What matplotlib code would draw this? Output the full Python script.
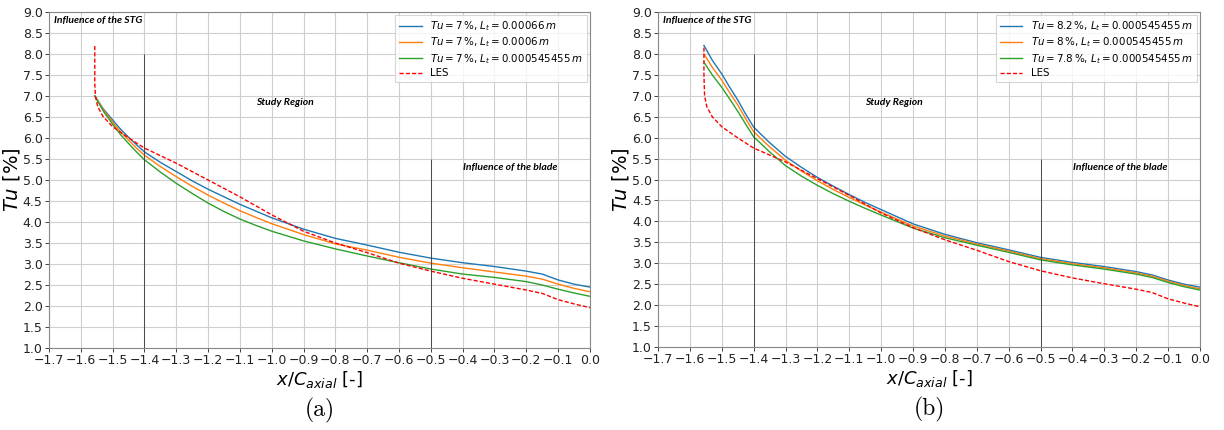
import matplotlib
matplotlib.use("Agg")
import matplotlib.pyplot as plt

# ---------------- data ----------------
x_pts = [-1.556, -1.53, -1.5, -1.475, -1.45, -1.425, -1.4, -1.35, -1.3, -1.25,
         -1.2, -1.15, -1.1, -1.05, -1.0, -0.9, -0.8, -0.7, -0.6, -0.5, -0.4,
         -0.3, -0.2, -0.15, -0.1, -0.05, 0.0]

# panel (a)
a_blue = [7.0, 6.7, 6.43, 6.21, 6.02, 5.84, 5.67, 5.42, 5.2, 4.98, 4.78, 4.6,
          4.42, 4.26, 4.1, 3.83, 3.61, 3.45, 3.28, 3.14, 3.03, 2.94, 2.83,
          2.76, 2.62, 2.52, 2.45]
a_orange = [7.0, 6.68, 6.38, 6.15, 5.95, 5.76, 5.59, 5.32, 5.08, 4.85, 4.64,
            4.45, 4.27, 4.11, 3.96, 3.7, 3.48, 3.33, 3.16, 3.02, 2.91, 2.81,
            2.71, 2.64, 2.52, 2.42, 2.34]
a_green = [7.0, 6.65, 6.33, 6.08, 5.87, 5.67, 5.48, 5.19, 4.92, 4.68, 4.45,
           4.25, 4.07, 3.92, 3.78, 3.55, 3.36, 3.19, 3.03, 2.88, 2.76, 2.68,
           2.58, 2.5, 2.4, 2.31, 2.23]

# panel (b)
b_blue = [8.2, 7.85, 7.52, 7.2, 6.9, 6.56, 6.25, 5.88, 5.55, 5.29, 5.05, 4.84,
          4.64, 4.45, 4.28, 3.94, 3.69, 3.49, 3.32, 3.14, 3.02, 2.92, 2.8,
          2.72, 2.6, 2.5, 2.43]
b_orange = [8.0, 7.68, 7.37, 7.07, 6.78, 6.45, 6.14, 5.78, 5.46, 5.2, 4.97,
            4.76, 4.57, 4.39, 4.22, 3.89, 3.65, 3.46, 3.29, 3.11, 2.99, 2.89,
            2.77, 2.69, 2.57, 2.47, 2.39]
b_green = [7.8, 7.5, 7.2, 6.92, 6.63, 6.32, 6.02, 5.66, 5.33, 5.08, 4.86,
           4.66, 4.48, 4.31, 4.15, 3.84, 3.61, 3.43, 3.26, 3.08, 2.96, 2.86,
           2.74, 2.66, 2.54, 2.44, 2.36]

# LES reference
les_x = [-1.556, -1.556, -1.554, -1.547, -1.53, -1.5, -1.455, -1.4, -1.3, -1.2,
         -1.1, -1.0, -0.9, -0.8, -0.7, -0.6, -0.5, -0.4, -0.3, -0.2, -0.15,
         -0.1, -0.05, 0.0]
les_a = [8.19, 7.3, 7.0, 6.75, 6.51, 6.27, 6.03, 5.76, 5.40, 5.0,
         4.6, 4.17, 3.78, 3.5, 3.27, 3.02, 2.83, 2.66, 2.52, 2.38, 2.3,
         2.15, 2.05, 1.96]
les_b = [8.15, 7.5, 7.0, 6.74, 6.5, 6.26, 6.02, 5.75, 5.42, 5.02,
         4.62, 4.2, 3.85, 3.56, 3.31, 3.04, 2.82, 2.65, 2.51, 2.38, 2.3,
         2.15, 2.05, 1.96]

labels_a = [r'$Tu = 7\,\%$, $L_t = 0.00066\,m$',
            r'$Tu = 7\,\%$, $L_t = 0.0006\,m$',
            r'$Tu = 7\,\%$, $L_t = 0.000545455\,m$',
            'LES']
labels_b = [r'$Tu = 8.2\,\%$, $L_t = 0.000545455\,m$',
            r'$Tu = 8\,\%$, $L_t = 0.000545455\,m$',
            r'$Tu = 7.8\,\%$, $L_t = 0.000545455\,m$',
            'LES']

x_ticks = [-1.7, -1.6, -1.5, -1.4, -1.3, -1.2, -1.1, -1.0, -0.9, -0.8, -0.7,
           -0.6, -0.5, -0.4, -0.3, -0.2, -0.1, 0.0]
y_ticks = [1.0, 1.5, 2.0, 2.5, 3.0, 3.5, 4.0, 4.5, 5.0, 5.5, 6.0, 6.5, 7.0,
           7.5, 8.0, 8.5, 9.0]

colors = ['#1f77b4', '#ff7f0e', '#2ca02c']

fig = plt.figure(figsize=(12.24, 4.30), dpi=100)
ax_a = fig.add_axes([0.0400, 0.1907, 0.4420, 0.7814])
ax_b = fig.add_axes([0.5376, 0.1930, 0.4428, 0.7791])

ann_font = dict(family='Lato', weight='bold', style='italic', fontsize=7.5)


def draw(ax, series, les, labels, caption):
    for ys, c, lab in zip(series, colors, labels[:3]):
        ax.plot(x_pts, ys, color=c, lw=1.0, label=lab)
    ax.plot(les_x, les, color='red', ls='--', lw=1.0, label=labels[3],
            dashes=(3, 1.5))
    ax.vlines([-1.4], 1.0, 8.0, color='#333333', lw=0.6)
    ax.vlines([-0.5], 1.0, 5.5, color='#333333', lw=0.6)
    ax.set_xlim(-1.7, 0.0)
    ax.set_ylim(1.0, 9.0)
    ax.set_xticks(x_ticks)
    ax.set_yticks(y_ticks)
    ax.set_xticklabels([f'{v:.1f}'.replace('-', '\u2212') for v in x_ticks])
    ax.set_yticklabels([f'{v:.1f}' for v in y_ticks])
    ax.tick_params(labelsize=9.0, length=3, width=0.6, pad=1.5, colors='#222222')
    ax.grid(True, color='#cfcfcf', lw=0.8)
    ax.set_axisbelow(True)
    for s in ax.spines.values():
        s.set_color('#888888')
        s.set_linewidth(0.8)
    ax.set_ylabel(r'$Tu$ [%]', fontsize=14)
    ax.yaxis.set_label_coords(-0.05, 0.5)
    ax.set_xlabel(r'$x/C_{axial}$ [-]', fontsize=13, labelpad=1)
    ax.text(-1.685, 8.73, 'Influence of the STG', **ann_font)
    ax.text(-0.96, 6.78, 'Study Region', ha='center', **ann_font)
    ax.text(-0.25, 5.23, 'Influence of the blade', ha='center', **ann_font)
    leg = ax.legend(loc='upper right', fontsize=7.4, frameon=True,
                    borderpad=0.4, labelspacing=0.25, handlelength=2.2,
                    borderaxespad=0.3, fancybox=False)
    leg.get_frame().set_edgecolor('#cccccc')
    leg.get_frame().set_linewidth(0.8)
    ax.text(0.5, -0.185, caption, transform=ax.transAxes, ha='center',
            va='center', fontsize=17, family='cmr10')


draw(ax_a, [a_blue, a_orange, a_green], les_a, labels_a, '(a)')
draw(ax_b, [b_blue, b_orange, b_green], les_b, labels_b, '(b)')

fig.savefig('out.png', dpi=100)
